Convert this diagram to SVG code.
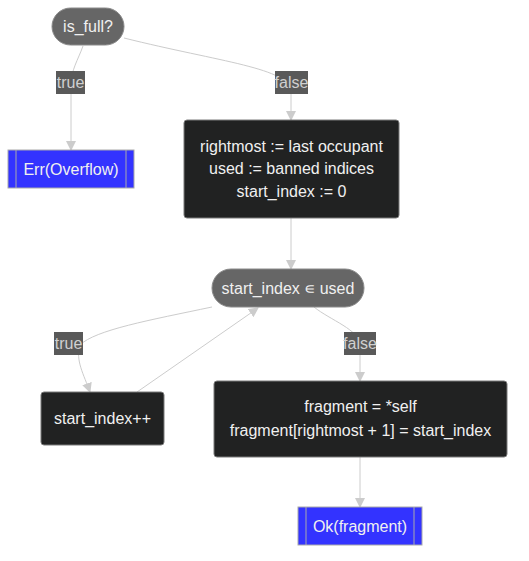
<svg xmlns="http://www.w3.org/2000/svg" width="529" height="561" viewBox="0 0 529 561">
<defs>
<style>
text{font-family:"Liberation Sans",Arial,sans-serif;font-size:16px;text-anchor:middle;}
.nt{fill:#f0f0f0;}
.stad{fill:#666666;stroke:#8a8a8a;stroke-width:1;}
.box{fill:#212222;stroke:#7a7a7a;stroke-width:1;}
.sub{fill:#3333ff;stroke:#aaaaaa;stroke-width:1;}
.subl{stroke:#aaaaaa;stroke-width:1;}
.edge{fill:none;stroke:#cccccc;stroke-width:1;}
.lbl{fill:#595959;}
.lt{fill:#d0d0d0;}
</style>
<marker id="arr" viewBox="0 0 10 10" refX="9" refY="5" markerWidth="10" markerHeight="10" markerUnits="userSpaceOnUse" orient="auto">
<path d="M0,0 L10,5 L0,10 z" fill="#cccccc"/>
</marker>
</defs>
<rect width="529" height="561" fill="#ffffff"/>
<g id="connectors">
<path class="edge" d="M124,38 C220,62 291,68 291,92 L291,120" marker-end="url(#arr)"/>
<path class="edge" d="M83,46 C78,60 71,70 71,85 L71,150" marker-end="url(#arr)"/>
<path class="edge" d="M291,218 L291,269" marker-end="url(#arr)"/>
<path class="edge" d="M212,307 C150,320 95,330 80,345 C75,360 84,375 90,392" marker-end="url(#arr)"/>
<path class="edge" d="M137,392 L258,308" marker-end="url(#arr)"/>
<path class="edge" d="M314,307 C330,320 360,330 360,345 L360,381" marker-end="url(#arr)"/>
<path class="edge" d="M360,457 L360,507" marker-end="url(#arr)"/>
</g>
<g id="edge-labels">
<g id="lbl-true1"><rect class="lbl" x="56" y="71" width="29" height="23"/><text class="lt" x="70.5" y="88">true</text></g>
<g id="lbl-false1"><rect class="lbl" x="275" y="71" width="33" height="23"/><text class="lt" x="291.5" y="88">false</text></g>
<g id="lbl-true2"><rect class="lbl" x="54" y="332" width="29" height="23"/><text class="lt" x="68.5" y="349">true</text></g>
<g id="lbl-false2"><rect class="lbl" x="344" y="332" width="32" height="23"/><text class="lt" x="360" y="349">false</text></g>
</g>
<g id="is_full">
<rect class="stad" x="52" y="8" width="72" height="37" rx="18.5"/>
<text class="nt" x="88" y="32">is_full?</text>
</g>
<g id="err_overflow">
<rect class="sub" x="8" y="150" width="126" height="38"/>
<line class="subl" x1="16" y1="150" x2="16" y2="188"/>
<line class="subl" x1="126" y1="150" x2="126" y2="188"/>
<text class="nt" x="71" y="175">Err(Overflow)</text>
</g>
<g id="init">
<rect class="box" x="184" y="120" width="215" height="98" rx="3"/>
<text class="nt" x="291.5" y="152">rightmost := last occupant</text>
<text class="nt" x="291.5" y="174">used := banned indices</text>
<text class="nt" x="291.5" y="197">start_index := 0</text>
</g>
<g id="in_used">
<rect class="stad" x="212" y="269" width="152" height="38" rx="19"/>
<text class="nt" x="288" y="294">start_index ∊ used</text>
</g>
<g id="increment">
<rect class="box" x="41" y="392" width="123" height="53" rx="3"/>
<text class="nt" x="102.5" y="424">start_index++</text>
</g>
<g id="fragment">
<rect class="box" x="214" y="381" width="293" height="76" rx="3"/>
<text class="nt" x="360.5" y="412">fragment = *self</text>
<text class="nt" x="360.5" y="436">fragment[rightmost + 1] = start_index</text>
</g>
<g id="ok_fragment">
<rect class="sub" x="298" y="507" width="124" height="38"/>
<line class="subl" x1="306" y1="507" x2="306" y2="545"/>
<line class="subl" x1="414" y1="507" x2="414" y2="545"/>
<text class="nt" x="360" y="532">Ok(fragment)</text>
</g>
</svg>
